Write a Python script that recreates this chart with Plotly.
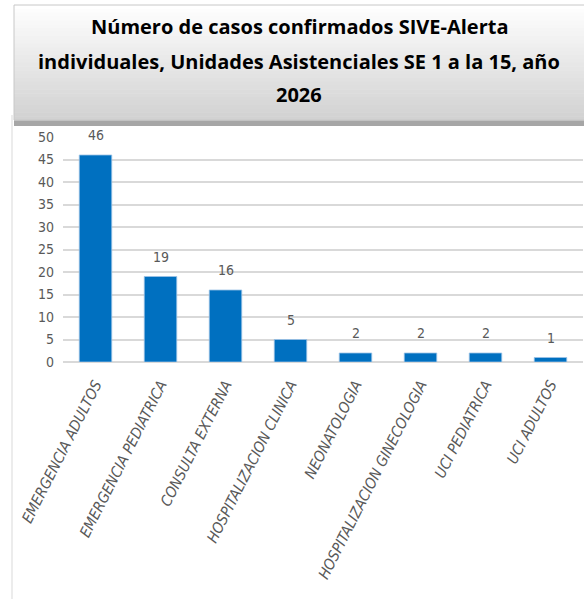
import plotly.graph_objects as go

# datos del grafico
unidades = [
    "EMERGENCIA ADULTOS",
    "EMERGENCIA PEDIATRICA",
    "CONSULTA EXTERNA",
    "HOSPITALIZACION CLINICA",
    "NEONATOLOGIA",
    "HOSPITALIZACION GINECOLOGIA",
    "UCI PEDIATRICA",
    "UCI ADULTOS",
]
casos = [46, 19, 16, 5, 2, 2, 2, 1]
y_ticks = [0, 5, 10, 15, 20, 25, 30, 35, 40, 45, 50]
titulo = [
    "Número de casos confirmados SIVE-Alerta",
    "individuales, Unidades Asistenciales SE 1 a la 15, año",
    "2026",
]

W, H = 584, 599
L, R, T, B = 63, 1, 137, 237

def px_x(px):
    return (px - L) / (W - L - R)

def px_y(py):
    return (H - B - py) / (H - T - B)

gray_txt = "#595959"
narrow = "DejaVu Sans Condensed, Liberation Sans Narrow, sans-serif"

fig = go.Figure()
fig.add_trace(go.Bar(
    x=unidades,
    y=casos,
    marker=dict(color="#0070C0", line=dict(color="#9DC3E6", width=0.8)),
    hoverinfo="x+y",
))

# etiquetas de valor sobre las barras
annotations = []
for u, v in zip(unidades, casos):
    annotations.append(dict(
        x=u, y=v, xref="x", yref="y", text=str(v), showarrow=False,
        yanchor="bottom", yshift=10,
        font=dict(family=narrow, size=14, color=gray_txt),
    ))

# titulo en tres lineas
for line, yc in zip(titulo, [27, 61, 95]):
    annotations.append(dict(
        x=px_x(299), y=px_y(yc), xref="paper", yref="paper", text=f"<b>{line}</b>",
        showarrow=False, xanchor="center", yanchor="middle",
        font=dict(family="Open Sans, sans-serif", size=20, color="#000000"),
    ))

shapes = []
# marco del grafico (linea izquierda)
shapes.append(dict(type="line", xref="paper", yref="paper",
                   x0=px_x(12), x1=px_x(12), y0=px_y(115), y1=px_y(599),
                   line=dict(color="#D9D9D9", width=1), layer="below"))
# sombra de la caja del titulo
shapes.append(dict(type="rect", xref="paper", yref="paper",
                   x0=px_x(14), x1=px_x(585), y0=px_y(126), y1=px_y(118),
                   fillcolor="#A6A6A6", line=dict(width=0), layer="below"))
# caja del titulo con degradado
n = 30
top, bot = 5, 120
for i in range(n):
    t = i / (n - 1)
    c = int(255 - t * (255 - 210))
    y0 = top + (bot - top) * i / n
    y1 = top + (bot - top) * (i + 1) / n + 0.5
    shapes.append(dict(type="rect", xref="paper", yref="paper",
                       x0=px_x(14), x1=px_x(585), y0=px_y(y1), y1=px_y(y0),
                       fillcolor=f"rgb({c},{c},{c})", line=dict(width=0), layer="below"))
shapes.append(dict(type="rect", xref="paper", yref="paper",
                   x0=px_x(14), x1=px_x(585), y0=px_y(bot), y1=px_y(top),
                   fillcolor="rgba(0,0,0,0)", line=dict(color="#C8C8C8", width=1), layer="below"))

fig.update_layout(
    width=W, height=H,
    margin=dict(l=L, r=R, t=T, b=B),
    paper_bgcolor="white",
    plot_bgcolor="white",
    showlegend=False,
    bargap=0.5,
    annotations=annotations,
    shapes=shapes,
)
fig.update_xaxes(
    tickangle=-63,
    tickvals=unidades,
    ticktext=[f"<i>{u}</i>" for u in unidades],
    tickfont=dict(family=narrow, size=15, color=gray_txt, style="italic"),
    showgrid=False, showline=False, zeroline=False,
    ticklabelstandoff=10,
)
fig.update_yaxes(
    range=[0, 50],
    tickvals=y_ticks,
    tickfont=dict(family=narrow, size=14, color=gray_txt),
    showgrid=True, gridcolor="#D9D9D9", gridwidth=1.5,
    zeroline=True, zerolinecolor="#D9D9D9", zerolinewidth=1.5,
    showline=False,
    ticklabelstandoff=8,
)

fig.write_html("out.html", config={"displayModeBar": False},
               post_script="document.body.style.margin='0px';")
